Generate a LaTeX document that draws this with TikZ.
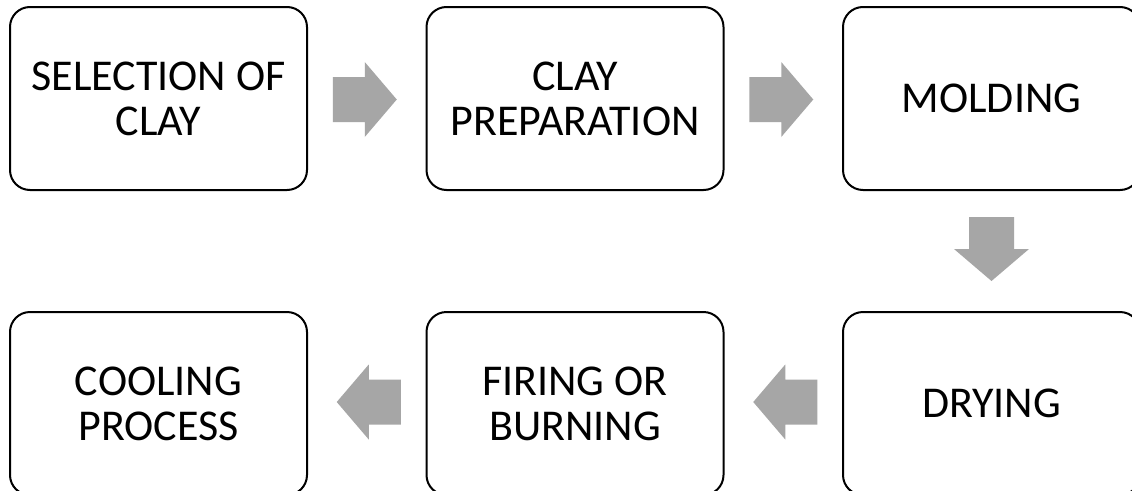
\documentclass[tikz,border=0pt]{standalone}
\usepackage{fontspec}
\setmainfont{Carlito}
\usetikzlibrary{calc}
\definecolor{arrowgray}{HTML}{A6A6A6}
\tikzset{
  stepbox/.style={draw=black, line width=2pt, rounded corners=20pt, rectangle,
    minimum width=297pt, minimum height=183pt, align=center, inner sep=0pt,
    font=\fontsize{44}{45}\selectfont},
  blockarrow/.style={fill=arrowgray, draw=none}
}
\newcommand{\blkarrow}[2]{%
  \begin{scope}[shift={(#1)}, rotate=#2]
    \fill[blockarrow] (-32,-22.5) -- (0,-22.5) -- (0,-37.5) -- (32,0) -- (0,37.5) -- (0,22.5) -- (-32,22.5) -- cycle;
  \end{scope}}
\begin{document}
\begin{tikzpicture}[x=1pt, y=-1pt]
  \clip (0,0) rectangle (1132,490);
  \fill[white] (0,0) rectangle (1132,490);
  \node[stepbox] (sel) at (158.5,98.5) {SELECTION OF\\CLAY};
  \node[stepbox] (prep) at (575,98.5) {CLAY\\PREPARATION};
  \node[stepbox] (mold) at (991.5,98.5) {MOLDING};
  \node[stepbox] (dry) at (991.5,403.5) {DRYING};
  \node[stepbox] (fire) at (575,403.5) {FIRING OR\\BURNING};
  \node[stepbox] (cool) at (158.5,403.5) {COOLING\\PROCESS};
  \coordinate (a1) at ($(sel.east)!0.5!(prep.west)+(-2,1)$);
  \coordinate (a2) at ($(prep.east)!0.5!(mold.west)+(-2,1)$);
  \coordinate (a3) at ($(mold.south)!0.5!(dry.north)+(0,-2)$);
  \coordinate (a4) at ($(dry.west)!0.5!(fire.east)+(2,-1.5)$);
  \coordinate (a5) at ($(fire.west)!0.5!(cool.east)+(2,-1.5)$);
  \blkarrow{a1}{0}
  \blkarrow{a2}{0}
  \blkarrow{a3}{-90}
  \blkarrow{a4}{180}
  \blkarrow{a5}{180}
\end{tikzpicture}
\end{document}
